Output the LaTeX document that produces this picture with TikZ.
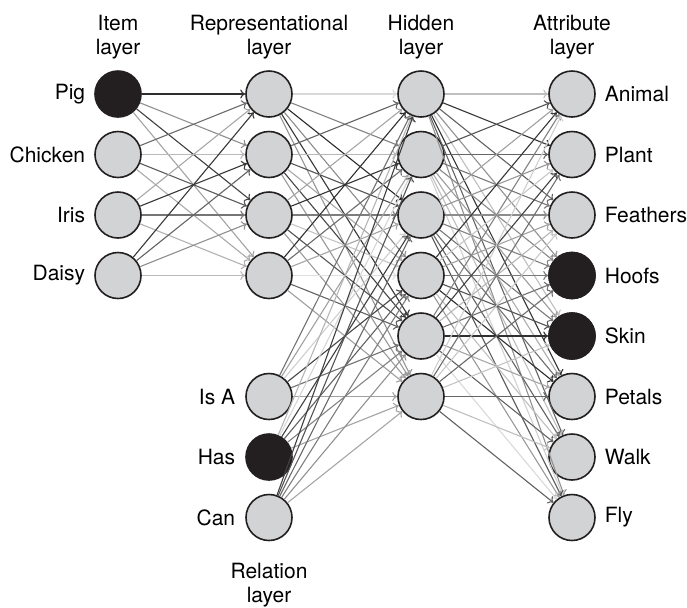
\documentclass[tikz,border=0pt]{standalone}
\usepackage{fontspec}
\setmainfont{TeX Gyre Heros}
\usetikzlibrary{arrows.meta}
\definecolor{unitgray}{HTML}{D1D3D4}
\definecolor{unitblack}{HTML}{231F20}
\tikzset{
  unit/.style={circle, draw=unitblack, line width=0.8pt, fill=unitgray, minimum size=23pt, inner sep=0pt},
  active/.style={unit, fill=unitblack},
  link/.style={-{To[length=2.5pt,width=4.5pt]}, line width=0.55pt},
  layername/.style={align=center, font=\fontsize{10.5}{12}\selectfont},
  every label/.style={font=\fontsize{10.5}{12}\selectfont},
}
\begin{document}
\begin{tikzpicture}[x=0.5pt, y=-0.5pt, font=\fontsize{10.5}{12}\selectfont]
  \useasboundingbox (0,0) rectangle (687,607);
  % layer names
  \node [layername] (itemname) at (118, 37) {Item\\layer};
  \node [layername] (repname) at (269, 37) {Representational\\layer};
  \node [layername] (hidname) at (421, 37) {Hidden\\layer};
  \node [layername] (attname) at (572, 37) {Attribute\\layer};
  \node [layername] (relname) at (269, 585) {Relation\\layer};
  % item layer
  \node [active, label={[label distance=1pt]left:Pig}] (i1) at (118, 94) {};
  \node [unit, label={[label distance=1pt]left:Chicken}] (i2) at (118, 154.5) {};
  \node [unit, label={[label distance=1pt]left:Iris}] (i3) at (118, 215) {};
  \node [unit, label={[label distance=1pt]left:Daisy}] (i4) at (118, 275.5) {};
  % representational layer
  \foreach \k in {1,...,4}
    \node [unit] (r\k) at (269, 94+60.5*\k-60.5) {};
  % relation layer
  \node [unit, label={[label distance=1.5pt]left:Is A}] (s1) at (269, 396.5) {};
  \node [active, label={[label distance=1.5pt]left:Has}] (s2) at (269, 457) {};
  \node [unit, label={[label distance=1.5pt]left:Can}] (s3) at (269, 517.5) {};
  % hidden layer
  \foreach \k in {1,...,6}
    \node [unit] (h\k) at (421, 94+60.5*\k-60.5) {};
  % attribute layer
  \foreach \name [count=\k] in {Animal, Plant, Feathers, Hoofs, Skin, Petals, Walk, Fly}
    \node [unit, label={[label distance=1pt]right:\name}] (a\k) at (572, 94+60.5*\k-60.5) {};
  \node [active] at (a4) {};
  \node [active] at (a5) {};
  % connections
  \foreach \i in {1,...,4}
    \foreach \j in {1,...,4} {
      \pgfmathtruncatemacro\shade{15+mod(37*\i+23*\j+7*\i*\j,68)}
      \draw [link, draw=black!\shade] (i\i) -- (r\j);
    }
  \foreach \src [count=\i] in {r1,r2,r3,r4,s1,s2,s3}
    \foreach \j in {1,...,6} {
      \pgfmathtruncatemacro\shade{12+mod(41*\i+29*\j+5*\i*\j,72)}
      \draw [link, draw=black!\shade] (\src) -- (h\j);
    }
  \foreach \i in {1,...,6}
    \foreach \j in {1,...,8} {
      \pgfmathtruncatemacro\shade{12+mod(31*\i+43*\j+11*\i*\j,72)}
      \draw [link, draw=black!\shade] (h\i) -- (a\j);
    }
\end{tikzpicture}
\end{document}
